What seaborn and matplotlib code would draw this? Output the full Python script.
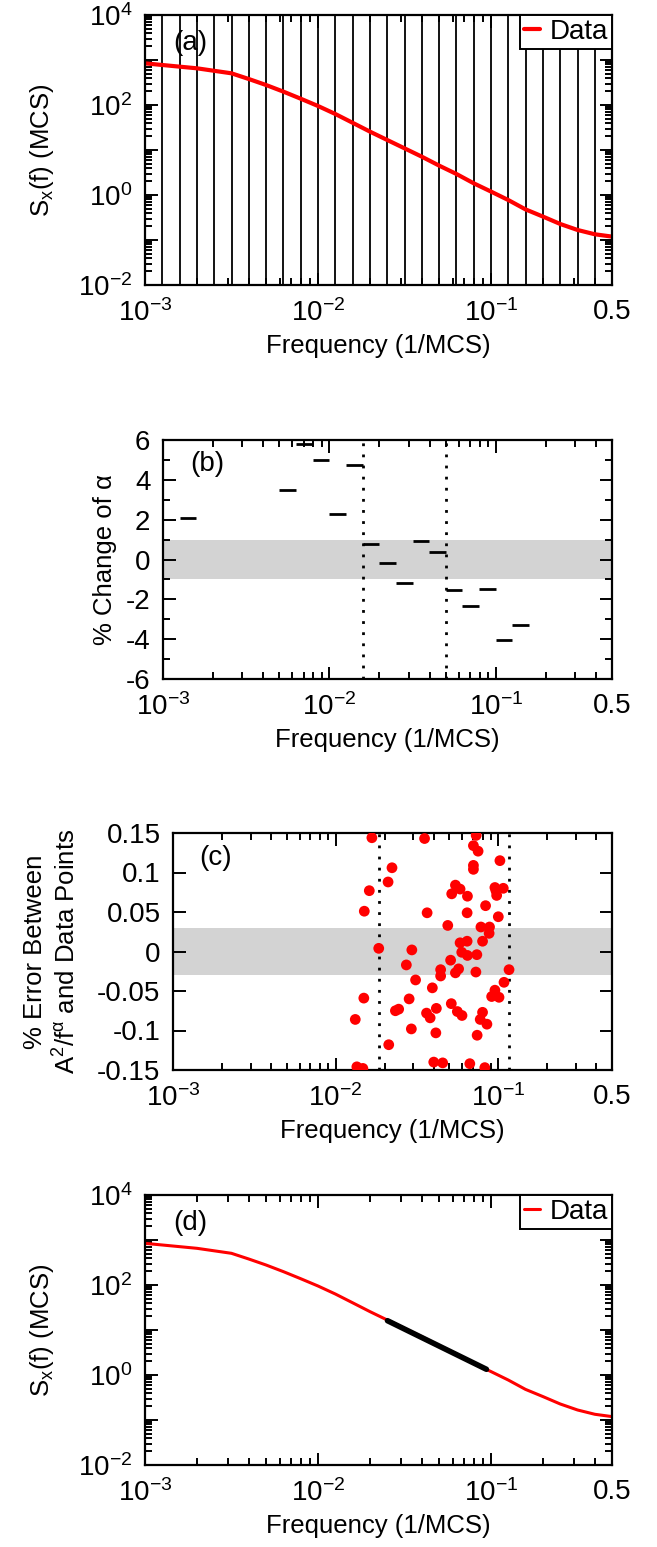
import numpy as np
import pandas as pd
import matplotlib
matplotlib.use("Agg")
import matplotlib.pyplot as plt
import matplotlib.ticker as mticker
import seaborn as sns

# ---- data ----
freq = [0.001, 0.002, 0.00316, 0.00398, 0.00501, 0.00631, 0.00794, 0.01, 0.0126,
        0.0158, 0.02, 0.0251, 0.0316, 0.0398, 0.0501, 0.0631, 0.0794, 0.1, 0.126,
        0.158, 0.2, 0.251, 0.316, 0.398, 0.5]
sx = [843, 653, 506, 378, 278, 198, 138, 95, 63, 40.5, 25.5, 16.7, 10.9, 7.1, 4.5,
      2.93, 1.82, 1.19, 0.77, 0.48, 0.33, 0.227, 0.167, 0.134, 0.119]

# bin edges (log10 f) drawn as vertical lines in (a)
bin_edges_exp = [-2.9, -2.8, -2.7, -2.6, -2.5, -2.4, -2.3, -2.2, -2.1, -2.0, -1.9, -1.8, -1.7,
                 -1.6, -1.5, -1.4, -1.3, -1.2, -1.1, -1.0, -0.9, -0.8, -0.7, -0.6, -0.5, -0.4]

# (b) % change of alpha per bin (bin start, bin end in log10 f)
alpha_lo = [-2.9, -2.3, -2.2, -2.1, -2.0, -1.9, -1.8, -1.7, -1.6, -1.5, -1.4, -1.3, -1.2, -1.1, -1.0, -0.9]
alpha_hi = [-2.8, -2.2, -2.1, -2.0, -1.9, -1.8, -1.7, -1.6, -1.5, -1.4, -1.3, -1.2, -1.1, -1.0, -0.9, -0.8]
alpha_chg = [2.1, 3.5, 5.8, 5.0, 2.3, 4.75, 0.8, -0.2, -1.17, 0.94, 0.4, -1.52, -2.31, -1.49, -4.02, -3.3]
b_window = [0.01585, 0.0504]

# (c) % error between fit and data points
err_f = [0.0167, 0.0352, 0.0731, 0.0703, 0.0751, 0.1023, 0.0222, 0.0703, 0.0703, 0.0210,
         0.0161, 0.0545, 0.0582, 0.0517, 0.0646, 0.0953, 0.1073, 0.0977, 0.0967, 0.0150,
         0.0365, 0.0643, 0.0835, 0.1000, 0.0489, 0.0782, 0.0883, 0.0878, 0.0184, 0.0294,
         0.0643, 0.0582, 0.0800, 0.0596, 0.0646, 0.0738, 0.0509, 0.0272, 0.0442, 0.0442,
         0.0545, 0.0570, 0.0728, 0.1164, 0.0310, 0.0393, 0.1084, 0.0149, 0.0283, 0.0953,
         0.0910, 0.1010, 0.0233, 0.0244, 0.0362, 0.0381, 0.0416, 0.0514, 0.0560, 0.0598,
         0.0800, 0.0774, 0.0851, 0.0132, 0.0292, 0.0413, 0.0741, 0.0212, 0.0401, 0.0455,
         0.0668, 0.0826, 0.0135, 0.0147]
err_val = [0.144, 0.143, 0.147, 0.134, 0.127, 0.115, 0.106, 0.109, 0.104, 0.088,
           0.077, 0.084, 0.079, 0.073, 0.070, 0.081, 0.080, 0.071, 0.077, 0.051,
           0.049, 0.049, 0.058, 0.044, 0.033, 0.031, 0.031, 0.023, 0.004, 0.002,
           0.013, 0.011, 0.013, -0.001, -0.005, -0.004, -0.011, -0.017, -0.023, -0.031,
           -0.027, -0.022, -0.026, -0.023, -0.036, -0.046, -0.039, -0.059, -0.060, -0.049,
           -0.057, -0.058, -0.075, -0.073, -0.078, -0.084, -0.072, -0.066, -0.076, -0.081,
           -0.077, -0.086, -0.092, -0.086, -0.098, -0.103, -0.106, -0.118, -0.140, -0.141,
           -0.142, -0.147, -0.146, -0.148]
c_window = [0.0184, 0.1164]

# (d) power-law fit segment
fit_f = [0.0252, 0.094]
fit_s = [16.1, 1.34]

# ---- style ----
sns.set_theme(style="ticks")
plt.rcParams["font.family"] = ["Liberation Sans", "DejaVu Sans"]
plt.rcParams["mathtext.fontset"] = "custom"
plt.rcParams["mathtext.rm"] = "Liberation Sans"
plt.rcParams["mathtext.it"] = "Liberation Sans:italic"
plt.rcParams["mathtext.default"] = "regular"
plt.rcParams["axes.linewidth"] = 1.6
for key in ["text.color", "axes.labelcolor", "xtick.color", "ytick.color",
            "axes.edgecolor"]:
    plt.rcParams[key] = "black"
FS = 18.5     # axis labels
TS = 20       # tick labels

W, H = 657, 1547
fig = plt.figure(figsize=(W / 100, H / 100), dpi=100)


def box(l, r, t, b):
    return [l / W, 1 - b / H, (r - l) / W, (b - t) / H]


def freq_axis(ax):
    ax.set_xscale("log")
    ax.set_xlim(1e-3, 0.5)
    ax.set_xticks([1e-3, 1e-2, 1e-1, 0.5])
    ax.set_xticklabels([r"$10^{-3}$", r"$10^{-2}$", r"$10^{-1}$", "0.5"])
    ax.xaxis.set_minor_locator(mticker.LogLocator(base=10, subs=np.arange(2, 10), numticks=100))
    ax.xaxis.set_minor_formatter(mticker.NullFormatter())
    ax.set_xlabel("Frequency (1/MCS)", fontsize=FS, labelpad=5)
    ax.tick_params(which="both", direction="in", top=True, right=True,
                   labelsize=TS, width=1.4, color="black", labelcolor="black")
    ax.tick_params(axis="x", which="both", pad=10)
    ax.tick_params(axis="y", which="both", pad=9)
    ax.tick_params(which="major", length=9)
    ax.tick_params(which="minor", length=5)
    for s in ax.spines.values():
        s.set_color("black")


def log_y(ax):
    ax.set_yscale("log")
    ax.set_ylim(1e-2, 1e4)
    ax.yaxis.set_major_locator(mticker.FixedLocator([1e-2, 1e-1, 1, 10, 100, 1e3, 1e4]))
    ax.yaxis.set_major_formatter(mticker.FixedFormatter(
        [r"$10^{-2}$", "", r"$10^{0}$", "", r"$10^{2}$", "", r"$10^{4}$"]))
    ax.yaxis.set_minor_locator(mticker.LogLocator(base=10, subs=np.arange(2, 10), numticks=100))
    ax.yaxis.set_minor_formatter(mticker.NullFormatter())
    ax.set_ylabel(r"S$_x$(f) (MCS)", fontsize=FS, labelpad=16)


def legend(ax):
    leg = ax.legend(loc="upper right", fontsize=TS, frameon=True, fancybox=False,
                    edgecolor="black", framealpha=1, borderaxespad=0,
                    handlelength=0.55, handletextpad=0.35, borderpad=0.15)
    leg.get_frame().set_linewidth(1.4)


# (a)
ax = fig.add_axes(box(145, 612, 15, 285))
ax.set_xscale("log")
ax.vlines([10 ** e for e in bin_edges_exp], 1e-2, 1e4, color="black", lw=1.3)
sns.lineplot(x=freq, y=sx, ax=ax, color="red", lw=3, label="Data")
freq_axis(ax)
log_y(ax)
legend(ax)
ax.text(0.06, 0.895, "(a)", transform=ax.transAxes, fontsize=TS, va="center")

# (b)
ax = fig.add_axes(box(163, 612, 440, 679))
ax.set_xscale("log")
ax.axhspan(-1, 1, color="#d3d3d3", lw=0, zorder=0)
ax.hlines(alpha_chg, [10 ** e for e in alpha_lo], [10 ** e for e in alpha_hi],
          color="black", lw=2)
for f0 in b_window:
    ax.axvline(f0, color="black", ls=(0, (1, 3)), lw=2)
freq_axis(ax)
ax.set_ylim(-6, 6)
ax.yaxis.set_major_locator(mticker.MultipleLocator(2))
ax.yaxis.set_minor_locator(mticker.MultipleLocator(1))
ax.yaxis.set_major_formatter(mticker.FuncFormatter(lambda v, p: f"{v:g}"))
ax.set_ylabel("% Change of α", fontsize=FS, labelpad=6)
ax.text(0.06, 0.90, "(b)", transform=ax.transAxes, fontsize=TS, va="center")

# (c)
ax = fig.add_axes(box(173, 612, 833, 1070))
ax.set_xscale("log")
ax.axhspan(-0.03, 0.03, color="#d3d3d3", lw=0, zorder=0)
for f0 in c_window:
    ax.axvline(f0, color="black", ls=(0, (1, 3)), lw=2)
err_df = pd.DataFrame({"f": err_f, "err": err_val})
sns.scatterplot(data=err_df, x="f", y="err", ax=ax, color="red", s=60,
                edgecolor="none", zorder=3)
freq_axis(ax)
ax.set_ylim(-0.15, 0.15)
ax.yaxis.set_major_locator(mticker.MultipleLocator(0.05))
ax.yaxis.set_minor_locator(mticker.NullLocator())
ax.yaxis.set_major_formatter(mticker.FuncFormatter(lambda v, p: f"{round(v, 2):g}"))
ax.set_ylabel("% Error Between\n" + r"A$^2$/f$^{\alpha}$ and Data Points",
              fontsize=FS, labelpad=12, linespacing=1.3)
ax.text(0.06, 0.895, "(c)", transform=ax.transAxes, fontsize=TS, va="center")

# (d)
ax = fig.add_axes(box(145, 612, 1195, 1465))
ax.set_xscale("log")
sns.lineplot(x=freq, y=sx, ax=ax, color="red", lw=2.2, label="Data")
sns.lineplot(x=fit_f, y=fit_s, ax=ax, color="black", lw=4, legend=False)
freq_axis(ax)
log_y(ax)
legend(ax)
ax.text(0.06, 0.895, "(d)", transform=ax.transAxes, fontsize=TS, va="center")

fig.savefig("out.png", dpi=100)
